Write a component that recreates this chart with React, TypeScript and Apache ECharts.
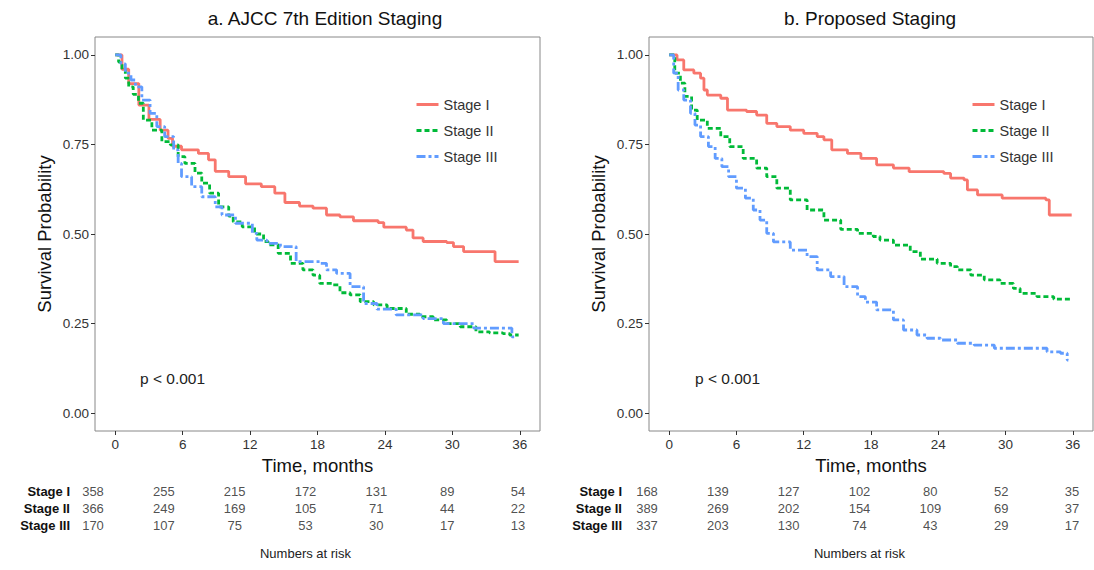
import React, { useEffect, useRef } from "react";
import * as echarts from "echarts";

// ---------- data ----------
const stageNames = ["Stage I", "Stage II", "Stage III"];
const timeTicks = [0, 6, 12, 18, 24, 30, 36];
const probTicks = [0, 0.25, 0.5, 0.75, 1];

// Panel a: AJCC 7th edition (time in months, survival probability)
const aStage1: [number, number][] = [
  [0, 1.0], [0.6, 0.96], [1.2, 0.92], [2.1, 0.86], [3.0, 0.82], [4.0, 0.79], [4.7, 0.767], [5.1, 0.745],
  [5.9, 0.735], [7.4, 0.725], [8.3, 0.707], [8.9, 0.675], [10.1, 0.66], [11.6, 0.64], [13.0, 0.632],
  [14.2, 0.614], [15.1, 0.588], [16.4, 0.578], [17.6, 0.572], [18.8, 0.553], [20.0, 0.548], [21.2, 0.537],
  [23.4, 0.532], [23.9, 0.519], [25.9, 0.511], [26.5, 0.489], [27.4, 0.479], [29.5, 0.476], [30.1, 0.465],
  [31.0, 0.451], [33.8, 0.423], [35.9, 0.423],
];
const aStage2: [number, number][] = [
  [0, 1.0], [0.3, 0.98], [0.6, 0.958], [0.9, 0.935], [1.2, 0.911], [1.6, 0.89], [2.07, 0.865], [2.5, 0.818],
  [3.26, 0.79], [4.15, 0.758], [4.9, 0.749], [5.6, 0.716], [6.2, 0.697], [7.1, 0.67], [7.7, 0.642],
  [8.4, 0.614], [9.2, 0.576], [10.1, 0.55], [10.5, 0.534], [11.3, 0.52], [12.4, 0.5], [13.2, 0.479],
  [13.6, 0.47], [14.5, 0.446], [15.6, 0.418], [16.7, 0.4], [17.6, 0.385], [18.2, 0.362], [19.4, 0.358],
  [20.0, 0.336], [20.9, 0.33], [21.8, 0.311], [23.0, 0.302], [24.2, 0.292], [25.9, 0.276], [27.1, 0.269],
  [28.3, 0.26], [29.5, 0.25], [30.7, 0.241], [32.1, 0.227], [33.3, 0.224], [34.5, 0.222], [35.1, 0.218],
  [35.9, 0.218],
];
const aStage3: [number, number][] = [
  [0, 1.0], [0.5, 0.975], [0.9, 0.949], [1.4, 0.93], [1.8, 0.911], [2.37, 0.874], [3.1, 0.837], [3.7, 0.8],
  [4.4, 0.772], [5.2, 0.735], [5.6, 0.697], [5.9, 0.66], [6.8, 0.632], [7.7, 0.604], [8.9, 0.576],
  [9.5, 0.553], [10.7, 0.53], [12.2, 0.502], [12.6, 0.483], [13.5, 0.474], [14.7, 0.465], [16.1, 0.423],
  [18.2, 0.418], [18.8, 0.4], [19.7, 0.39], [20.9, 0.353], [22.1, 0.306], [23.3, 0.29], [25.0, 0.274],
  [27.4, 0.264], [29.2, 0.25], [31.9, 0.237], [35.3, 0.213], [35.5, 0.213],
];

// Panel b: proposed staging
const bStage1: [number, number][] = [
  [0, 1.0], [0.7, 0.986], [1.3, 0.958], [2.2, 0.949], [2.8, 0.935], [3.1, 0.902], [3.4, 0.888], [4.6, 0.879],
  [5.2, 0.846], [6.9, 0.842], [7.8, 0.832], [8.7, 0.809], [9.6, 0.8], [10.8, 0.79], [12.0, 0.781],
  [13.2, 0.772], [13.8, 0.763], [14.5, 0.735], [15.9, 0.725], [17.1, 0.711], [18.5, 0.693], [20.0, 0.684],
  [21.4, 0.674], [24.5, 0.669], [25.1, 0.656], [26.3, 0.651], [26.6, 0.623], [27.5, 0.609], [29.7, 0.6],
  [33.6, 0.595], [33.9, 0.553], [35.9, 0.553],
];
const bStage2: [number, number][] = [
  [0, 1.0], [0.5, 0.949], [1.0, 0.921], [1.4, 0.884], [2.0, 0.846], [2.5, 0.818], [3.4, 0.795], [4.6, 0.772],
  [5.4, 0.744], [6.6, 0.711], [7.8, 0.684], [8.7, 0.66], [9.6, 0.628], [10.8, 0.595], [12.3, 0.567],
  [13.8, 0.539], [15.3, 0.513], [16.8, 0.502], [18.2, 0.493], [18.8, 0.483], [20.0, 0.469], [21.5, 0.451],
  [22.4, 0.43], [23.9, 0.418], [25.1, 0.409], [25.7, 0.4], [26.9, 0.385], [28.1, 0.372], [29.5, 0.362],
  [30.7, 0.348], [31.3, 0.334], [32.8, 0.325], [34.3, 0.318], [36.0, 0.318],
];
const bStage3: [number, number][] = [
  [0, 1.0], [0.4, 0.949], [0.8, 0.902], [1.3, 0.874], [1.9, 0.837], [2.3, 0.804], [2.8, 0.772], [3.5, 0.744],
  [4.1, 0.711], [4.7, 0.688], [5.3, 0.66], [6.0, 0.628], [6.8, 0.6], [7.5, 0.567], [8.1, 0.539], [8.7, 0.502],
  [9.3, 0.478], [10.8, 0.455], [12.3, 0.437], [13.2, 0.4], [14.4, 0.381], [15.6, 0.353], [16.8, 0.325],
  [17.5, 0.31], [18.5, 0.288], [20.0, 0.26], [20.9, 0.232], [22.1, 0.218], [23.0, 0.209], [24.2, 0.204],
  [25.7, 0.195], [27.2, 0.19], [29.0, 0.181], [30.1, 0.181], [33.7, 0.171], [34.9, 0.167], [35.5, 0.148],
  [35.6, 0.148],
];

// Numbers at risk
const riskA = [
  [358, 255, 215, 172, 131, 89, 54],
  [366, 249, 169, 105, 71, 44, 22],
  [170, 107, 75, 53, 30, 17, 13],
];
const riskB = [
  [168, 139, 127, 102, 80, 52, 35],
  [389, 269, 202, 154, 109, 69, 37],
  [337, 203, 130, 74, 43, 29, 17],
];

const titleA = "a. AJCC 7th Edition Staging";
const titleB = "b. Proposed Staging";
const pText = "p < 0.001";

// ---------- styles ----------
const FONT = "'Liberation Sans', Arial, Helvetica, sans-serif";
const colors = ["#F8766D", "#00BA38", "#619CFF"];
const dashes: any[] = ["solid", [5, 3], [9, 3, 3, 3]];

function buildOption() {
  const curvesA = [aStage1, aStage2, aStage3];
  const curvesB = [bStage1, bStage2, bStage3];

  const plotX = (gi: number) => ({
    type: "value",
    gridIndex: gi,
    min: -1.8,
    max: 37.8,
    splitLine: { show: false },
    axisLine: { show: false, onZero: false },
    axisTick: { show: true, customValues: timeTicks, length: 4, lineStyle: { color: "#333", width: 1 } },
    axisLabel: { customValues: timeTicks, fontSize: 13.5, color: "#333", margin: 6, fontFamily: FONT },
    name: "Time, months",
    nameLocation: "middle",
    nameGap: 24,
    nameTextStyle: { fontSize: 18.5, color: "#111", fontFamily: FONT },
  });
  const plotY = (gi: number) => ({
    type: "value",
    gridIndex: gi,
    min: -0.05,
    max: 1.05,
    splitLine: { show: false },
    axisLine: { show: false, onZero: false },
    axisTick: { show: true, customValues: probTicks, length: 4, lineStyle: { color: "#333", width: 1 } },
    axisLabel: {
      customValues: probTicks,
      fontSize: 13.5,
      color: "#333",
      margin: 6,
      fontFamily: FONT,
      formatter: (v: number) => v.toFixed(2),
    },
    name: "Survival Probability",
    nameLocation: "middle",
    nameGap: 41,
    nameTextStyle: { fontSize: 18.5, color: "#111", fontFamily: FONT },
  });
  const tableX = (gi: number) => ({
    type: "value",
    gridIndex: gi,
    min: 0,
    max: 36,
    axisLine: { show: false, onZero: false },
    axisTick: { show: false },
    axisLabel: { show: false },
    splitLine: { show: false },
    name: "Numbers at risk",
    nameLocation: "middle",
    nameGap: 13,
    nameTextStyle: { fontSize: 13, color: "#222", fontFamily: FONT },
  });
  const tableY = (gi: number, margin: number) => ({
    type: "category",
    gridIndex: gi,
    data: stageNames,
    inverse: true,
    axisLine: { show: false },
    axisTick: { show: false },
    splitLine: { show: false },
    axisLabel: { fontSize: 13, fontWeight: "bold", color: "#111", margin, fontFamily: FONT },
  });

  const series: any[] = [];
  [curvesA, curvesB].forEach((curves, panel) => {
    curves.forEach((data, i) => {
      series.push({
        type: "line",
        name: stageNames[i],
        xAxisIndex: panel,
        yAxisIndex: panel,
        data,
        step: "end",
        symbol: "none",
        silent: true,
        lineStyle: { color: colors[i], width: 2.8, type: dashes[i] },
        itemStyle: { color: colors[i] },
        z: 2 + i,
      });
    });
  });
  [riskA, riskB].forEach((risk, panel) => {
    const data: any[] = [];
    risk.forEach((row, r) => row.forEach((n, k) => data.push([timeTicks[k], stageNames[r], n])));
    series.push({
      type: "scatter",
      xAxisIndex: 2 + panel,
      yAxisIndex: 2 + panel,
      data,
      symbolSize: 1,
      silent: true,
      itemStyle: { color: "rgba(0,0,0,0)" },
      label: {
        show: true,
        position: "inside",
        formatter: (p: any) => String(p.value[2]),
        fontSize: 13,
        color: "#222",
        fontFamily: FONT,
      },
    });
  });

  const legendCommon = {
    data: stageNames,
    orient: "vertical",
    top: 92,
    itemWidth: 22,
    itemHeight: 16,
    itemGap: 11,
    selectedMode: false,
    itemStyle: { opacity: 0 },
    lineStyle: { width: 3 },
    textStyle: { fontSize: 14.5, color: "#333", fontFamily: FONT },
  };

  return {
    animation: false,
    backgroundColor: "#fff",
    textStyle: { fontFamily: FONT },
    grid: [
      { left: 95, top: 37, width: 445, height: 394, show: true, borderColor: "#888", borderWidth: 1 },
      { left: 649, top: 37, width: 444, height: 394, show: true, borderColor: "#888", borderWidth: 1 },
      { left: 93, top: 482.5, width: 425, height: 51 },
      { left: 647, top: 482.5, width: 425, height: 51 },
    ],
    xAxis: [plotX(0), plotX(1), tableX(2), tableX(3)],
    yAxis: [plotY(0), plotY(1), tableY(2, 23), tableY(3, 25)],
    legend: [
      { ...legendCommon, left: 410 },
      { ...legendCommon, left: 966 },
    ],
    graphic: [
      {
        type: "text",
        x: 325,
        y: 18,
        style: { text: titleA, fontSize: 19, fill: "#111", align: "center", verticalAlign: "middle", fontFamily: FONT },
      },
      {
        type: "text",
        x: 870,
        y: 18,
        style: { text: titleB, fontSize: 19, fill: "#111", align: "center", verticalAlign: "middle", fontFamily: FONT },
      },
      {
        type: "text",
        x: 140,
        y: 378,
        style: { text: pText, fontSize: 15.5, fill: "#222", align: "left", verticalAlign: "middle", fontFamily: FONT },
      },
      {
        type: "text",
        x: 695,
        y: 378,
        style: { text: pText, fontSize: 15.5, fill: "#222", align: "left", verticalAlign: "middle", fontFamily: FONT },
      },
    ],
    series,
  };
}

export default function App() {
  const ref = useRef<HTMLDivElement>(null);
  useEffect(() => {
    if (!ref.current) return;
    const chart = echarts.init(ref.current, null, { renderer: "svg" });
    chart.setOption(buildOption() as any);
    return () => chart.dispose();
  }, []);
  return (
    <div
      ref={ref}
      style={{ position: "fixed", left: 0, top: 0, width: 1094, height: 570, background: "#fff" }}
    />
  );
}
